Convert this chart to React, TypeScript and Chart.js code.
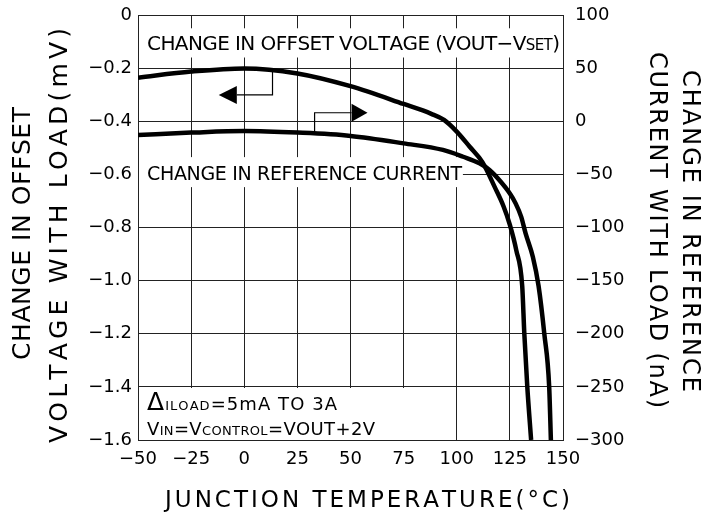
import React, { useEffect, useRef } from "react";
import { Chart, registerables } from "chart.js";

Chart.register(...registerables);

// ---- data ----
const xTicks = [-50, -25, 0, 25, 50, 75, 100, 125, 150];
const leftTicks = [0, -0.2, -0.4, -0.6, -0.8, -1.0, -1.2, -1.4, -1.6];
const rightTicks = [100, 50, 0, -50, -100, -150, -200, -250, -300];

// Change in offset voltage (mV, left axis)
const offsetTemps = [-50, -25, 0, 25, 50, 75, 88, 94, 100, 106, 112, 118, 122, 125, 128, 130.8, 131.8, 133.2, 135];
const offsetMv = [-0.236, -0.213, -0.201, -0.22, -0.268, -0.335, -0.372, -0.395, -0.439, -0.495, -0.553, -0.65, -0.72, -0.79, -0.885, -1.02, -1.2, -1.4, -1.6];

// Change in reference current (nA, right axis)
const refTemps = [-50, -25, 0, 25, 50, 75, 93.5, 103, 110.7, 115.4, 120, 125, 127.7, 130.3, 132.4, 135.8, 138.5, 141.2, 143.5, 144.3];
const refNa = [-12.9, -10.7, -9.2, -10.7, -13.8, -20.8, -27, -33.4, -39.6, -45.9, -55.3, -68, -77.3, -89.8, -105.5, -127.5, -155, -200, -250, -300];

const FONT = '"DejaVu Sans"';

type Seg = { t: string; size: number };

function drawRich(ctx: CanvasRenderingContext2D, segs: Seg[], x: number, y: number, width: number, rot = 0) {
  ctx.save();
  ctx.translate(x, y);
  if (rot) ctx.rotate(rot);
  ctx.textBaseline = "alphabetic";
  ctx.textAlign = "left";
  ctx.fillStyle = "#000";
  let nat = 0;
  let n = 0;
  for (const s of segs) {
    ctx.font = `${s.size}px ${FONT}`;
    for (const ch of s.t) {
      nat += ctx.measureText(ch).width;
      n++;
    }
  }
  const sp = n > 1 ? (width - nat) / (n - 1) : 0;
  let cx = 0;
  for (const s of segs) {
    ctx.font = `${s.size}px ${FONT}`;
    for (const ch of s.t) {
      ctx.fillText(ch, cx, 0);
      cx += ctx.measureText(ch).width + sp;
    }
  }
  ctx.restore();
}

function fmt(v: number, d: number) {
  if (Math.abs(v) < 1e-9) return "0";
  return (v < 0 ? "\u2212" : "") + Math.abs(v).toFixed(d);
}

const annotPlugin = {
  id: "annot",
  beforeDatasetsDraw(chart: any) {
    const { ctx, chartArea: a, scales } = chart;
    const xs = scales.x;
    const ys = scales.y;
    const L = Math.round(a.left) + 1;
    const R = Math.round(a.right);
    ctx.save();
    ctx.fillStyle = "#fff";
    // box behind top label
    const t1 = ys.getPixelForValue(-0.05);
    const t2 = ys.getPixelForValue(-0.16);
    ctx.fillRect(L, t1, R - L, t2 - t1);
    // box behind reference-current label
    const r1 = ys.getPixelForValue(-0.535);
    const r2 = ys.getPixelForValue(-0.648);
    const rx = xs.getPixelForValue(102.9);
    ctx.fillRect(L, r1, rx - L, r2 - r1);
    // bottom condition box
    const bx = Math.round(xs.getPixelForValue(75));
    const by = Math.round(ys.getPixelForValue(-1.4)) + 1;
    ctx.fillRect(L, by, bx - L, Math.round(a.bottom) - by);
    ctx.restore();

    drawRich(ctx, [{ t: "CHANGE IN OFFSET VOLTAGE (VOUT\u2212V", size: 20 }, { t: "SET", size: 15 }, { t: ")", size: 20 }], 147, 50, 413);
    drawRich(ctx, [{ t: "CHANGE IN REFERENCE CURRENT", size: 19 }], 147, 180, 315);
    drawRich(ctx, [{ t: "\u0394", size: 25 }, { t: "ILOAD", size: 13 }, { t: "=5mA TO 3A", size: 18 }], 147, 410, 190);
    drawRich(ctx, [{ t: "V", size: 18 }, { t: "IN", size: 13 }, { t: "=V", size: 18 }, { t: "CONTROL", size: 13 }, { t: "=VOUT+2V", size: 18 }], 147, 435, 228);
  },
  afterDatasetsDraw(chart: any) {
    const { ctx, scales } = chart;
    const xs = scales.x;
    const ys = scales.y;
    const X = (v: number) => xs.getPixelForValue(v);
    const Y = (v: number) => ys.getPixelForValue(v);
    ctx.save();
    ctx.strokeStyle = "#000";
    ctx.fillStyle = "#000";
    ctx.lineWidth = 1.2;
    // left-pointing arrow (offset voltage -> left axis)
    const ly = Y(-0.301);
    ctx.beginPath();
    ctx.moveTo(X(-3.5), ly);
    ctx.lineTo(X(13.3), ly);
    ctx.lineTo(X(13.3), Y(-0.214));
    ctx.stroke();
    ctx.beginPath();
    ctx.moveTo(X(-12), ly);
    ctx.lineTo(X(-3.5), ly - 9);
    ctx.lineTo(X(-3.5), ly + 9);
    ctx.closePath();
    ctx.fill();
    // right-pointing arrow (reference current -> right axis)
    const ry = Y(-0.368);
    ctx.beginPath();
    ctx.moveTo(X(50.5), ry);
    ctx.lineTo(X(33.1), ry);
    ctx.lineTo(X(33.1), Y(-0.452));
    ctx.stroke();
    ctx.beginPath();
    ctx.moveTo(X(58), ry);
    ctx.lineTo(X(50.5), ry - 9);
    ctx.lineTo(X(50.5), ry + 9);
    ctx.closePath();
    ctx.fill();
    ctx.restore();
  },
  afterDraw(chart: any) {
    const { ctx } = chart;
    drawRich(ctx, [{ t: "CHANGE IN OFFSET", size: 25 }], 29.5, 360, 253, -Math.PI / 2);
    drawRich(ctx, [{ t: "VOLTAGE WITH LOAD(mV)", size: 25 }], 66.5, 443, 415, -Math.PI / 2);
    drawRich(ctx, [{ t: "CHANGE IN REFERENCE", size: 24 }], 683, 70, 322, Math.PI / 2);
    drawRich(ctx, [{ t: "CURRENT WITH LOAD (nA)", size: 24 }], 650, 52, 356, Math.PI / 2);
    drawRich(ctx, [{ t: "JUNCTION TEMPERATURE(\u00B0C)", size: 23 }], 165, 506.5, 405);
  },
};

function fixV(width: number) {
  return (s: any) => {
    s.width = width;
    s.paddingTop = 0;
    s.paddingBottom = 0;
  };
}

export default function App() {
  const ref = useRef<HTMLCanvasElement>(null);
  useEffect(() => {
    if (!ref.current) return;
    const gridColor = "#222";
    const tickFont = { family: FONT, size: 18 };
    const chart = new Chart(ref.current, {
      type: "line",
      data: {
        datasets: [
          {
            label: "Offset voltage",
            data: offsetTemps.map((t, i) => ({ x: t, y: offsetMv[i] })),
            yAxisID: "y",
            borderColor: "#000",
            borderWidth: 4.5,
            pointRadius: 0,
            cubicInterpolationMode: "monotone",
            fill: false,
          },
          {
            label: "Reference current",
            data: refTemps.map((t, i) => ({ x: t, y: refNa[i] })),
            yAxisID: "y2",
            borderColor: "#000",
            borderWidth: 4.5,
            pointRadius: 0,
            cubicInterpolationMode: "monotone",
            fill: false,
          },
        ],
      },
      options: {
        responsive: false,
        animation: false,
        devicePixelRatio: 1,
        layout: { autoPadding: false, padding: { top: 15, left: 0, right: 0, bottom: 0 } },
        plugins: { legend: { display: false }, tooltip: { enabled: false } },
        scales: {
          x: {
            type: "linear",
            min: xTicks[0],
            max: xTicks[xTicks.length - 1],
            afterBuildTicks: (s: any) => {
              s.ticks = xTicks.map((v) => ({ value: v }));
            },
            afterFit: (s: any) => {
              s.height = 74;
              s.paddingLeft = 0;
              s.paddingRight = 0;
            },
            ticks: {
              autoSkip: false,
              maxRotation: 0,
              padding: 9,
              color: "#000",
              font: tickFont,
              callback: (v: any) => fmt(Number(v), 0),
            },
            grid: { color: gridColor, lineWidth: 1, drawTicks: false },
            border: { display: true, color: gridColor, width: 1 },
          },
          y: {
            type: "linear",
            position: "left",
            min: leftTicks[leftTicks.length - 1],
            max: leftTicks[0],
            afterBuildTicks: (s: any) => {
              s.ticks = leftTicks.slice().reverse().map((v) => ({ value: v }));
            },
            afterFit: fixV(138),
            ticks: {
              padding: 6,
              color: "#000",
              font: tickFont,
              callback: (v: any) => fmt(Number(v), 1),
            },
            grid: { color: gridColor, lineWidth: 1, drawTicks: false },
            border: { display: true, color: gridColor, width: 1 },
          },
          y2: {
            type: "linear",
            position: "right",
            min: rightTicks[rightTicks.length - 1],
            max: rightTicks[0],
            afterBuildTicks: (s: any) => {
              s.ticks = rightTicks.slice().reverse().map((v) => ({ value: v }));
            },
            afterFit: fixV(148),
            ticks: {
              padding: 12,
              color: "#000",
              font: tickFont,
              callback: (v: any) => fmt(Number(v), 0),
            },
            grid: { drawOnChartArea: false, drawTicks: false },
            border: { display: true, color: gridColor, width: 1 },
          },
        },
      },
      plugins: [annotPlugin],
    } as any);
    return () => chart.destroy();
  }, []);
  return (
    <div style={{ position: "fixed", left: 0, top: 0, width: 711, height: 514, background: "#fff" }}>
      <canvas ref={ref} width={711} height={514} style={{ width: 711, height: 514, display: "block" }} />
    </div>
  );
}
